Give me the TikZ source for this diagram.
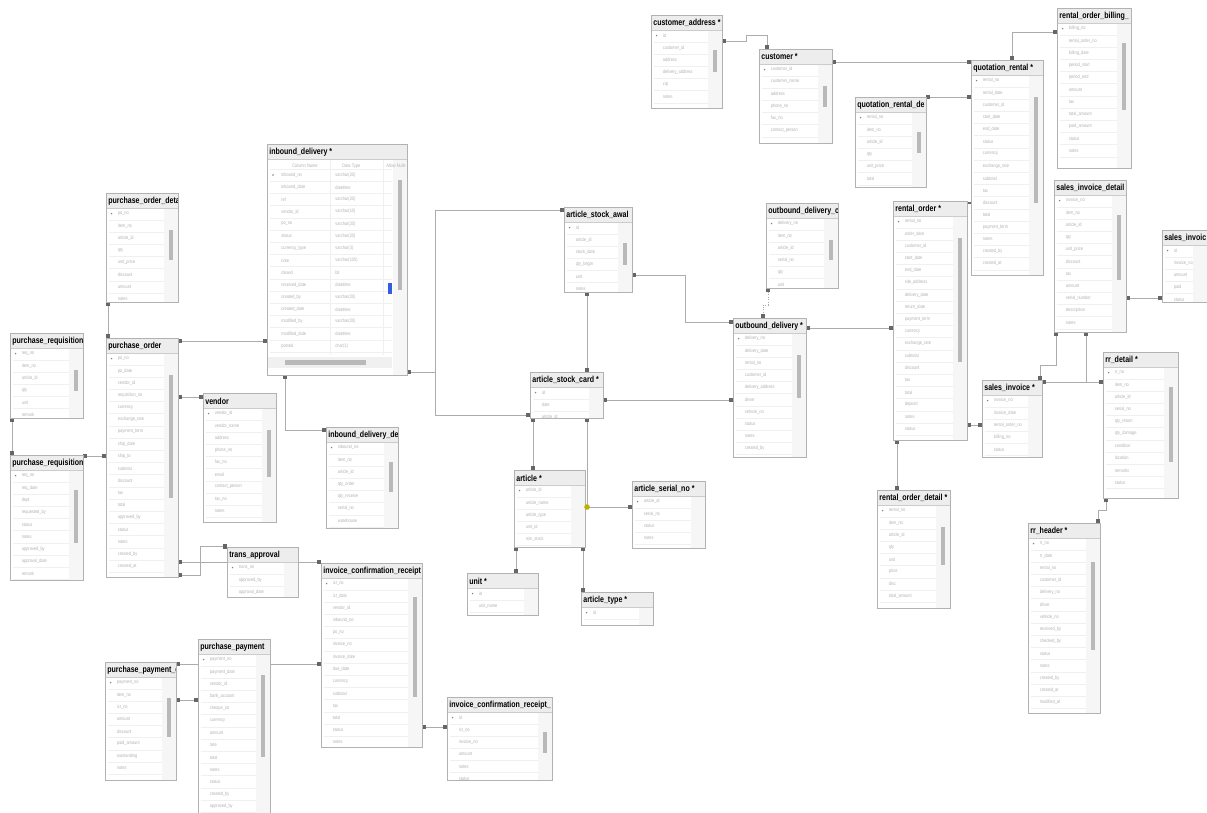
\documentclass[tikz,border=0pt]{standalone}
\usepackage{fontspec}
\setmainfont{Liberation Sans}
\newfontfamily\tblfont[FakeStretch=0.8]{Liberation Sans}
\usetikzlibrary{fit,calc,arrows.meta}

\pgfdeclarelayer{bg}
\pgfsetlayers{bg,main}

\tikzset{
  tblbox/.style={draw=gray!60, fill=white, inner sep=0pt, line width=0.5pt},
  tbltitle/.style={anchor=west, inner sep=0pt, font=\tblfont\bfseries\fontsize{5}{6}\selectfont},
  fld/.style={anchor=west, inner sep=0pt, text=gray!60, font=\tblfont\fontsize{2.8}{3}\selectfont},
  rowline/.style={draw=gray!12, line width=0.3pt},
  rel/.style={draw=gray!65, line width=0.45pt,
    {Square[length=2pt,width=2.4pt,color=black!60]}-{Square[length=2pt,width=2.4pt,color=black!60]}},
}

% table frame: name, x, y, width, height, title, scroll thumb from, to
\newcommand\dbtable[8]{%
  \coordinate (#1-nw) at (#2,#3);
  \coordinate (#1-se) at ({#2+#4},{#3+#5});
  \node[tblbox, fit=(#1-nw)(#1-se)] (#1) {};
  \begin{scope}
    \clip (#1-nw) rectangle (#1-se);
    \fill[gray!7] ({#2+#4-14},#3) rectangle (#1-se);
    \fill[gray!55] ({#2+#4-9},{#3+#7}) rectangle ({#2+#4-5.5},{#3+#8});
    \fill[gray!14] (#1-nw) rectangle ({#2+#4},{#3+15});
    \draw[gray!40, line width=0.4pt] (#2,{#3+15}) -- ({#2+#4},{#3+15});
    \node[tbltitle] at ({#2+2},{#3+8}) {#6};
  \end{scope}
  \draw[tblbox, fill=none] (#1-nw) rectangle (#1-se);
}
% column rows of a table
\newcommand\dbrows[2]{%
  \begin{scope}
    \clip (#1.north west) rectangle (#1.south east);
    \foreach \f [count=\i] in {#2} {
      \node[fld] at ($(#1.north west)+(12,{8.9+12.2*\i})$) {\f};
      \draw[rowline] ($(#1.north west)+(3,{15+12.2*\i})$) -- ($(#1.north east)+(-14,{15+12.2*\i})$);
    }
    \fill[black!50] ($(#1.north west)+(6,21)$) circle (0.45pt);
  \end{scope}}

\begin{document}
\catcode`\_=12
\begin{tikzpicture}[x=0.02cm, y=-0.02cm]
  \useasboundingbox (0,0) rectangle (1207,812);
  \clip (0,0) rectangle (1207,812);

  % customer side
  \dbtable{caddr}{651}{15}{71}{93}{customer_address *}{35}{57}
  \dbrows{caddr}{id, customer_id, address, delivery_address, zip, notes}
  \dbtable{cust}{759}{49}{73}{94}{customer *}{37}{58}
  \dbrows{cust}{customer_id, customer_name, address, phone_no, fax_no, contact_person}
  \dbtable{qrd}{855}{97}{71}{90}{quotation_rental_de}{35}{56}
  \dbrows{qrd}{rental_no, item_no, article_id, qty, unit_price, total}
  \dbtable{qr}{971}{60}{72}{215}{quotation_rental *}{37}{143}
  \dbrows{qr}{rental_no, rental_date, customer_id, start_date, end_date, status, currency, exchange_rate, subtotal, tax, discount, total, payment_term, notes, created_by, created_at}
  \dbtable{rob}{1057}{8}{74}{160}{rental_order_billing_}{35}{102}
  \dbrows{rob}{billing_no, rental_order_no, billing_date, period_start, period_end, amount, tax, total_amount, paid_amount, status, notes}
  \dbtable{sid}{1054}{180}{72}{152}{sales_invoice_detail *}{35}{100}
  \dbrows{sid}{invoice_no, item_no, article_id, qty, unit_price, discount, tax, amount, serial_number, description, notes}
  \dbtable{si2}{1162}{230}{45}{72}{sales_invoic}{0}{0}
  \dbrows{si2}{id, invoice_no, amount, paid, status}
  \dbtable{ro}{893}{201}{74}{239}{rental_order *}{37}{161}
  \dbrows{ro}{rental_no, order_date, customer_id, start_date, end_date, site_address, delivery_date, return_date, payment_term, currency, exchange_rate, subtotal, discount, tax, total, deposit, notes, status}
  \dbtable{odd}{766}{203}{72}{85}{outbound_delivery_c}{37}{57}
  \dbrows{odd}{delivery_no, item_no, article_id, serial_no, qty, unit}
  \dbtable{od}{733}{318}{73}{139}{outbound_delivery *}{37}{80}
  \dbrows{od}{delivery_no, delivery_date, rental_no, customer_id, delivery_address, driver, vehicle_no, status, notes, created_by}
  \dbtable{rod}{877}{490}{73}{118}{rental_order_detail *}{37}{75}
  \dbrows{rod}{rental_no, item_no, article_id, qty, unit, price, disc, total_amount}
  \dbtable{si}{982}{380}{60}{77}{sales_invoice *}{0}{0}
  \dbrows{si}{invoice_no, invoice_date, rental_order_no, billing_no, status}
  \dbtable{rrd}{1103}{352}{75}{146}{rr_detail *}{35}{110}
  \dbrows{rrd}{rr_no, item_no, article_id, serial_no, qty_return, qty_damage, condition, location, remarks, status}
  \dbtable{rrh}{1028}{523}{72}{190}{rr_header *}{39}{127}
  \dbrows{rrh}{rr_no, rr_date, rental_no, customer_id, delivery_no, driver, vehicle_no, received_by, checked_by, status, notes, created_by, created_at, modified_at}

  % article
  \dbtable{asa}{564}{207}{68}{85}{article_stock_awal}{36}{58}
  \dbrows{asa}{id, article_id, stock_date, qty_begin, unit, notes}
  \dbtable{asc}{530}{372}{73}{46}{article_stock_card *}{0}{0}
  \dbrows{asc}{id, date, article_id}
  \dbtable{art}{514}{470}{71}{77}{article *}{0}{0}
  \dbrows{art}{article_id, article_name, article_type, unit_id, min_stock}
  \dbtable{asn}{632}{481}{73}{67}{article_serial_no *}{0}{0}
  \dbrows{asn}{article_id, serial_no, status, notes}
  \dbtable{unit}{467}{573}{71}{42}{unit *}{0}{0}
  \dbrows{unit}{id, unit_name}
  \dbtable{atype}{581}{592}{72}{33}{article_type *}{0}{0}
  \dbrows{atype}{id}

  % inbound delivery, with column grid
  \dbtable{inb}{267}{144}{140}{231}{inbound_delivery *}{36}{146}
  \begin{scope}
    \clip (inb.north west) rectangle (inb.south east);
    \node[fld] at (292,166) {Column Name};
    \node[fld] at (342,166) {Data Type};
    \node[fld] at (386,166) {Allow Nulls};
    \draw[rowline] (270,169) -- (392,169);
    \draw[rowline] (330,160) -- (330,355);
    \draw[rowline] (383,160) -- (383,355);
    \foreach \f/\t [count=\i] in {inbound_no/varchar(20), inbound_date/datetime, ref/varchar(20),
      vendor_id/varchar(10), po_no/varchar(20), status/varchar(20), currency_type/varchar(3),
      note/varchar(100), closed/bit, received_date/datetime, created_by/varchar(20),
      created_date/datetime, modified_by/varchar(20), modified_date/datetime, posted/char(1)} {
      \node[fld] at (281,{162.9+12.2*\i}) {\f};
      \node[fld] at (335,{162.9+12.2*\i}) {\t};
      \draw[rowline] (270,{169+12.2*\i}) -- (392,{169+12.2*\i});
    }
    \fill[black!50] (273,175) circle (0.45pt);
    \fill[gray!12] (268,357) rectangle (392,368);
    \fill[gray!55] (285,360) rectangle (366,365);
    \fill[cyan!50!blue, draw=blue!70] (388,283) rectangle (391.5,293);
  \end{scope}
  \dbtable{ind}{326}{427}{72}{101}{inbound_delivery_de}{35}{65}
  \dbrows{ind}{inbound_no, item_no, article_id, qty_order, qty_receive, serial_no, warehouse}

  % purchasing
  \dbtable{pod}{106}{193}{72}{109}{purchase_order_deta}{37}{67}
  \dbrows{pod}{po_no, item_no, article_id, qty, unit_price, discount, amount, notes}
  \dbtable{po}{106}{338}{72}{239}{purchase_order}{37}{160}
  \dbrows{po}{po_no, po_date, vendor_id, requisition_no, currency, exchange_rate, payment_term, ship_date, ship_to, subtotal, discount, tax, total, approved_by, status, notes, created_by, created_at}
  \dbtable{pr1}{10}{333}{73}{85}{purchase_requisition}{37}{58}
  \dbrows{pr1}{req_no, item_no, article_id, qty, unit, remark}
  \dbtable{pr2}{10}{455}{73}{125}{purchase_requisition}{35}{88}
  \dbrows{pr2}{req_no, req_date, dept, requested_by, status, notes, approved_by, approval_date, remark}
  \dbtable{vend}{203}{393}{73}{129}{vendor}{37}{84}
  \dbrows{vend}{vendor_id, vendor_name, address, phone_no, fax_no, email, contact_person, tax_no, notes}
  \dbtable{ta}{227}{547}{71}{50}{trans_approval}{0}{0}
  \dbrows{ta}{trans_no, approved_by, approval_date}
  \dbtable{icr}{321}{563}{101}{184}{invoice_confirmation_receipt}{34}{134}
  \dbrows{icr}{icr_no, icr_date, vendor_id, inbound_no, po_no, invoice_no, invoice_date, due_date, currency, subtotal, tax, total, status, notes}
  \dbtable{pp}{198}{639}{72}{180}{purchase_payment}{36}{118}
  \dbrows{pp}{payment_no, payment_date, vendor_id, bank_account, cheque_no, currency, amount, rate, total, notes, status, created_by, approved_by}
  \dbtable{ppd}{105}{662}{71}{118}{purchase_payment_d}{36}{75}
  \dbrows{ppd}{payment_no, item_no, icr_no, amount, discount, paid_amount, outstanding, notes}
  \dbtable{icr2}{447}{697}{105}{83}{invoice_confirmation_receipt_}{35}{56}
  \dbrows{icr2}{id, icr_no, invoice_no, amount, notes, status}

  \fill[olive!60!yellow] (587,507) circle (1.6pt);

  \begin{pgfonlayer}{bg}
    \fill[white] (0,0) rectangle (1207,812);
    \draw[rel] (caddr.east |- 0,41) -- (746,41) -- (746,35) -- (767,35) -- (cust.north -| 767,0);
    \draw[rel] (cust.east |- 0,62) -- (qr.west |- 0,62);
    \draw[rel] (qrd.east |- 0,97) -- (qr.west |- 0,97);
    \draw[rel] (qr.north -| 1012,0) |- (rob.west |- 0,32);
    \draw[draw=black!60, line width=0.8pt] (ro.east |- 0,203) -- (qr.west |- 0,203);
    \draw[rel] (ro.east |- 0,425) -- (si.west |- 0,425);
    \draw[rel] (od.east |- 0,328) -- (ro.west |- 0,328);
    \draw[rel, densely dotted] (odd.south -| 768,0) -- (768,305) -| (od.north -| 763,0);
    \draw[rel] (asa.east |- 0,275) -- (685,275) |- (od.west |- 0,322);
    \draw[rel] (asc.east |- 0,400) -- (od.west |- 0,400);
    \draw[rel] (ro.south -| 897,0) -- (rod.north -| 897,0);
    \draw[rel] (sid.south -| 1056,0) -- (1056,365) -| (si.north -| 1040,0);
    \draw[rel] (si.east |- 0,382) -- (rrd.west |- 0,382);
    \draw[rel] (sid.south -| 1086,0) |- (rrd.west |- 0,382);
    \draw[rel] (sid.east |- 0,298) -- (si2.west |- 0,298);
    \draw[rel] (rrd.south -| 1106,0) -- (1106,510) -| (rrh.north -| 1098,0);
    \draw[rel] (po.east |- 0,341) -- (inb.west |- 0,341);
    \draw[rel] (inb.south -| 285,0) |- (ind.west |- 0,430);
    \coordinate (jn) at (435,372);
    \draw[rel] (inb.east |- 0,372) -- (jn) |- (asa.west |- 0,210);
    \draw[rel] (inb.east |- 0,372) -- (jn) |- (asc.west |- 0,415);
    \draw[rel] (asa.south -| 587,0) -- (asc.north -| 587,0);
    \draw[rel] (asc.south -| 587,0) |- (asn.west |- 0,507);
    \draw[rel] (art.east |- 0,507) -- (asn.west |- 0,507);
    \draw[rel] (asc.south -| 533,0) -- (art.north -| 533,0);
    \draw[rel] (art.south -| 516,0) -- (unit.north -| 516,0);
    \draw[rel] (art.south -| 583,0) -- (atype.north -| 583,0);
    \draw[rel] (pod.south -| 108,0) -- (po.north -| 108,0);
    \draw[rel] (pr1.south -| 12,0) -- (pr2.north -| 12,0);
    \draw[rel] (pr2.east |- 0,456) -- (po.west |- 0,456);
    \draw[rel] (po.east |- 0,397) -- (vend.west |- 0,397);
    \draw[rel] (po.east |- 0,562) -- (icr.west |- 0,562);
    \draw[rel] (po.east |- 0,575) -- (200,575) |- (ta.north west);
    \draw[rel] (ppd.east |- 0,664) -- (icr.west |- 0,664);
    \draw[rel] (ppd.east |- 0,700) -- (pp.west |- 0,700);
    \draw[rel] (icr.east |- 0,727) -- (icr2.west |- 0,727);
  \end{pgfonlayer}
\end{tikzpicture}
\end{document}
